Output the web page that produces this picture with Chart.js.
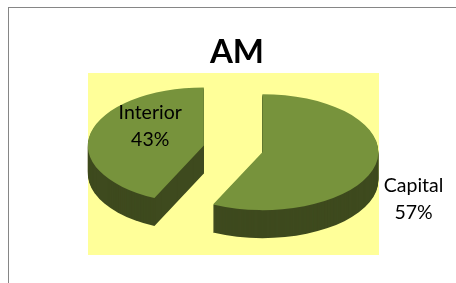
<!DOCTYPE html>
<html>
<head>
<meta charset="utf-8">
<script src="https://cdn.jsdelivr.net/npm/chart.js"></script>
<style>
  html, body { margin: 0; padding: 0; background: #fff; }
  #wrap { position: relative; width: 456px; height: 283px; overflow: hidden; }
  #frame { position: absolute; left: 8px; top: 7px; width: 600px; height: 400px; border: 1px solid #868686; }
  #plot { position: absolute; left: 88px; top: 73px; width: 291px; height: 182px; background: #ffff99; }
  #c { position: absolute; left: 0; top: 0; }
</style>
</head>
<body>
<div id="wrap">
  <div id="frame"></div>
  <div id="plot"></div>
  <canvas id="c" width="456" height="283"></canvas>
</div>
<script>
const categories = ['Capital', 'Interior'];
const values = [57, 43];
const chartTitle = 'AM';

// fake 3d: squash the pie, push slices out, extrude the sides
const pie3d = {
  id: 'pie3d',
  beforeDatasetDraw(chart, args, opts) {
    const ctx = chart.ctx;
    const arcs = args.meta.data;
    const tilt = opts.tilt;
    const total = values.reduce((a, b) => a + b, 0);

    const place = (el, i) => {
      const mid = (el.startAngle + el.endAngle) / 2;
      const e = opts.explode[i] || 0;
      return {
        mid: mid,
        tx: el.x + Math.cos(mid) * e,
        ty: el.y + Math.sin(mid) * e * tilt
      };
    };

    // sides first
    arcs.forEach((el, i) => {
      const p = place(el, i);
      ctx.save();
      ctx.fillStyle = opts.sideColor;
      for (let d = opts.depth; d >= 1; d--) {
        ctx.save();
        ctx.translate(p.tx, p.ty + d);
        ctx.scale(1, tilt);
        ctx.translate(-el.x, -el.y);
        ctx.beginPath();
        ctx.moveTo(el.x, el.y);
        ctx.arc(el.x, el.y, el.outerRadius, el.startAngle, el.endAngle);
        ctx.closePath();
        ctx.fill();
        ctx.restore();
      }
      ctx.restore();
    });

    // tops
    arcs.forEach((el, i) => {
      const p = place(el, i);
      ctx.save();
      ctx.translate(p.tx, p.ty);
      ctx.scale(1, tilt);
      ctx.translate(-el.x, -el.y);
      el.draw(ctx);
      ctx.restore();
    });

    // labels
    ctx.save();
    ctx.fillStyle = '#000';
    ctx.font = opts.labelFont;
    ctx.textAlign = 'center';
    ctx.textBaseline = 'middle';
    arcs.forEach((el, i) => {
      const p = place(el, i);
      const lp = opts.labelPlace[i];
      const r = el.outerRadius * lp.k;
      const x = p.tx + Math.cos(p.mid) * r + lp.dx;
      const y = p.ty + Math.sin(p.mid) * r * tilt + lp.dy;
      const pct = Math.round(values[i] / total * 100) + '%';
      ctx.fillText(categories[i], x, y - opts.lineGap / 2);
      ctx.fillText(pct, x, y + opts.lineGap / 2);
    });
    ctx.restore();
    return false;
  }
};

function build() {
  new Chart(document.getElementById('c'), {
    type: 'pie',
    data: {
      labels: categories,
      datasets: [{
        data: values,
        backgroundColor: '#77933c',
        borderColor: '#77933c',
        borderWidth: 0,
        radius: 116
      }]
    },
    options: {
      responsive: false,
      animation: false,
      events: [],
      layout: { padding: { left: 18, right: 0, top: 0, bottom: 57 } },
      plugins: {
        legend: { display: false },
        tooltip: { enabled: false },
        title: {
          display: true,
          text: chartTitle,
          color: '#000',
          font: { family: 'Lato', size: 33, weight: 'bold', lineHeight: 1.2 },
          padding: { top: 33, bottom: 0 }
        },
        pie3d: {
          tilt: 0.5,
          depth: 28,
          explode: [26, 34],
          sideColor: '#3e4a1e',
          labelFont: '19.5px Lato',
          lineGap: 27,
          labelPlace: [
            { k: 1.3, dx: 4, dy: 31 },
            { k: 0.5, dx: 3, dy: -13 }
          ]
        }
      }
    },
    plugins: [pie3d]
  });
}

if (document.fonts && document.fonts.load) {
  Promise.all([
    document.fonts.load('bold 33px Lato'),
    document.fonts.load('19.5px Lato')
  ]).then(build, build);
} else {
  build();
}
</script>
</body>
</html>
